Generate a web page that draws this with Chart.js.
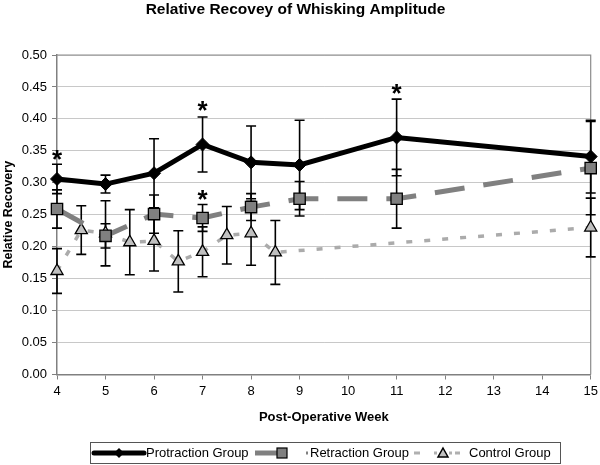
<!DOCTYPE html>
<html>
<head>
<meta charset="utf-8">
<script src="https://cdn.jsdelivr.net/npm/chart.js@4/dist/chart.umd.min.js"></script>
<style>
html,body{margin:0;padding:0;background:#fff;}
#wrap{width:600px;height:465px;position:relative;}
</style>
</head>
<body>
<div id="wrap"><canvas id="c" width="600" height="465"></canvas></div>
<script>
// ---- Data ----
const chartTitle = "Relative Recovey of Whisking Amplitude";
const xTitle = "Post-Operative Week";
const yTitle = "Relative Recovery";
const seriesNames = ["Protraction Group", "Retraction Group", "Control Group"];

const protractionWeeks = [4, 5, 6, 7, 8, 9, 11, 15];
const protractionValues = [0.306, 0.298, 0.315, 0.360, 0.332, 0.328, 0.371, 0.341];
const protractionErrors = [0.023, 0.014, 0.054, 0.043, 0.057, 0.070, 0.060, 0.057];

const retractionWeeks = [4, 5, 6, 7, 8, 9, 11, 15];
const retractionValues = [0.259, 0.217, 0.251, 0.245, 0.262, 0.275, 0.275, 0.323];
const retractionErrors = [0.030, 0.019, 0.030, 0.021, 0.021, 0.027, 0.046, 0.073];

const controlWeeks = [4, 4.5, 5, 5.5, 6, 6.5, 7, 7.5, 8, 8.5, 15];
const controlValues = [0.162, 0.226, 0.221, 0.207, 0.209, 0.177, 0.192, 0.218, 0.221, 0.191, 0.230];
const controlErrors = [0.035, 0.038, 0.051, 0.051, 0.047, 0.048, 0.039, 0.045, 0.050, 0.050, 0.046];

// significance markers (asterisks)
const starWeeks = [4, 7, 7, 11];
const starValues = [0.346, 0.424, 0.284, 0.450];

const xMin = 4, xMax = 15, yMin = 0, yMax = 0.5, yStep = 0.05;

function toPoints(xs, ys){ return xs.map((x,i)=>({x:x, y:ys[i]})); }

const errorSets = [protractionErrors, retractionErrors, controlErrors];

const FONT = "'Liberation Sans', Arial, sans-serif";

const errorBarPlugin = {
  id: 'errorBars',
  beforeDatasetsDraw(chart){
    const ctx = chart.ctx;
    const xs = chart.scales.x, ys = chart.scales.y;
    ctx.save();
    ctx.strokeStyle = '#000';
    ctx.lineWidth = 1.6;
    chart.data.datasets.forEach((ds, di) => {
      const errs = errorSets[di];
      ds.data.forEach((p, i) => {
        const px = xs.getPixelForValue(p.x);
        const top = ys.getPixelForValue(p.y + errs[i]);
        const bot = ys.getPixelForValue(p.y - errs[i]);
        ctx.beginPath();
        ctx.moveTo(px, top); ctx.lineTo(px, bot);
        ctx.moveTo(px - 5, top); ctx.lineTo(px + 5, top);
        ctx.moveTo(px - 5, bot); ctx.lineTo(px + 5, bot);
        ctx.stroke();
      });
    });
    ctx.restore();
  }
};

const framePlugin = {
  id: 'frame',
  beforeDatasetsDraw(chart){
    const {ctx, chartArea:a} = chart;
    ctx.save();
    ctx.strokeStyle = '#8c8c8c';
    ctx.lineWidth = 1.2;
    ctx.beginPath();
    ctx.moveTo(a.left, a.top); ctx.lineTo(a.right, a.top); ctx.lineTo(a.right, a.bottom);
    ctx.stroke();
    ctx.restore();
  }
};

const starPlugin = {
  id: 'stars',
  afterDatasetsDraw(chart){
    const ctx = chart.ctx;
    const xs = chart.scales.x, ys = chart.scales.y;
    const size = 26;
    ctx.save();
    ctx.fillStyle = '#000';
    ctx.font = 'bold ' + size + 'px ' + FONT;
    ctx.textAlign = 'center';
    ctx.textBaseline = 'alphabetic';
    starWeeks.forEach((w, i) => {
      const px = xs.getPixelForValue(w);
      const py = ys.getPixelForValue(starValues[i]);
      ctx.fillText('*', px, py + size * 0.58);
    });
    ctx.restore();
  }
};

const legendPlugin = {
  id: 'customLegend',
  afterDraw(chart){
    const ctx = chart.ctx;
    ctx.save();
    ctx.strokeStyle = '#555';
    ctx.lineWidth = 1;
    ctx.strokeRect(90.5, 442.5, 470, 21);
    const cy = 453;
    ctx.font = '13px ' + FONT;
    ctx.fillStyle = '#000';
    ctx.textBaseline = 'middle';
    ctx.textAlign = 'left';
    // Protraction sample
    ctx.strokeStyle = '#000'; ctx.lineWidth = 5; ctx.lineCap = 'round';
    ctx.beginPath(); ctx.moveTo(94, cy); ctx.lineTo(144, cy); ctx.stroke();
    ctx.fillStyle = '#000';
    ctx.beginPath(); ctx.moveTo(119, cy-5); ctx.lineTo(124, cy); ctx.lineTo(119, cy+5); ctx.lineTo(114, cy); ctx.closePath(); ctx.fill();
    ctx.fillText(seriesNames[0], 146, cy);
    // Retraction sample
    ctx.lineCap = 'butt';
    ctx.strokeStyle = '#808080'; ctx.lineWidth = 5;
    ctx.beginPath(); ctx.moveTo(255, cy); ctx.lineTo(277, cy); ctx.stroke();
    ctx.lineWidth = 3;
    ctx.beginPath(); ctx.moveTo(306, cy); ctx.lineTo(308, cy); ctx.stroke();
    ctx.fillStyle = '#808080'; ctx.fillRect(277, cy-5, 10, 10);
    ctx.strokeStyle = '#000'; ctx.lineWidth = 1.2; ctx.strokeRect(277, cy-5, 10, 10);
    ctx.fillStyle = '#000';
    ctx.fillText(seriesNames[1], 310, cy);
    // Control sample
    ctx.strokeStyle = '#b0b0b0'; ctx.lineWidth = 3;
    ctx.beginPath(); ctx.moveTo(414, cy); ctx.lineTo(420, cy); ctx.moveTo(434, cy); ctx.lineTo(437, cy);
    ctx.moveTo(449, cy); ctx.lineTo(452, cy); ctx.moveTo(455, cy); ctx.lineTo(460, cy); ctx.stroke();
    ctx.fillStyle = '#c0c0c0';
    ctx.beginPath(); ctx.moveTo(443, cy-5); ctx.lineTo(448, cy+4); ctx.lineTo(438, cy+4); ctx.closePath(); ctx.fill();
    ctx.strokeStyle = '#000'; ctx.lineWidth = 1.5; ctx.stroke();
    ctx.fillStyle = '#000';
    ctx.fillText(seriesNames[2], 469, cy);
    ctx.restore();
  }
};

new Chart(document.getElementById('c'), {
  type: 'line',
  data: {
    datasets: [
      {
        label: seriesNames[0],
        data: toPoints(protractionWeeks, protractionValues),
        borderColor: '#000', borderWidth: 5,
        pointStyle: 'rectRot', pointRadius: 6.5,
        pointBackgroundColor: '#000', pointBorderColor: '#000', pointBorderWidth: 1,
        tension: 0, clip: false
      },
      {
        label: seriesNames[1],
        data: toPoints(retractionWeeks, retractionValues),
        borderColor: '#808080', borderWidth: 5, borderDash: [30, 19],
        pointStyle: 'rect', pointRadius: 8,
        pointBackgroundColor: '#808080', pointBorderColor: '#000', pointBorderWidth: 1.3,
        tension: 0, clip: false
      },
      {
        label: seriesNames[2],
        data: toPoints(controlWeeks, controlValues),
        borderColor: '#ababab', borderWidth: 3.5, borderDash: [6, 12],
        pointStyle: 'triangle', pointRadius: 7,
        pointBackgroundColor: '#c0c0c0', pointBorderColor: '#000', pointBorderWidth: 1.3,
        tension: 0, clip: false
      }
    ]
  },
  options: {
    responsive: false,
    animation: false,
    layout: { padding: { left: 0, right: 9, top: 0, bottom: 30 } },
    plugins: {
      legend: { display: false },
      tooltip: { enabled: false },
      title: {
        display: true, text: chartTitle, color: '#000',
        font: { family: FONT, size: 15.5, weight: 'bold' },
        padding: { top: 0, bottom: 36.4 }
      }
    },
    scales: {
      x: {
        type: 'linear', min: xMin, max: xMax,
        afterFit(s){ s.height = 60.5; s.paddingRight = 0; s.paddingLeft = 0; },
        ticks: { stepSize: 1, color: '#000', font: { family: FONT, size: 13 }, padding: 4, maxRotation: 0, autoSkip: false },
        grid: { drawOnChartArea: false, drawTicks: true, tickLength: 5, tickColor: '#808080', tickWidth: 1 },
        border: { color: '#808080', width: 1.5 },
        title: { display: true, text: xTitle, color: '#000', font: { family: FONT, size: 13, weight: 'bold' }, padding: { top: 0, bottom: 10.2 } }
      },
      y: {
        min: yMin, max: yMax,
        afterFit(s){ s.width = 57; },
        ticks: { stepSize: yStep, color: '#000', font: { family: FONT, size: 13 }, padding: 5, callback: v => Number(v).toFixed(2) },
        grid: { color: '#c8c8c8', lineWidth: 1, drawTicks: true, tickLength: 5, tickColor: '#808080' },
        border: { color: '#808080', width: 1.5 },
        title: { display: true, text: yTitle, color: '#000', font: { family: FONT, size: 12.5, weight: 'bold' }, padding: { top: 1, bottom: 0 } }
      }
    }
  },
  plugins: [framePlugin, errorBarPlugin, starPlugin, legendPlugin]
});
</script>
</body>
</html>
